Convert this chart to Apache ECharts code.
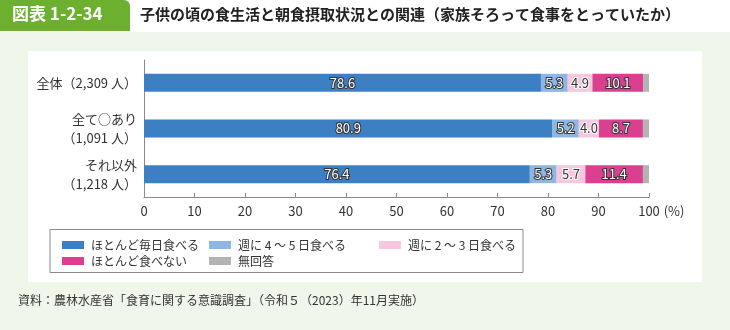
<!DOCTYPE html>
<html>
<head>
<meta charset="utf-8">
<script src="https://cdn.jsdelivr.net/npm/echarts@6/dist/echarts.min.js"></script>
<style>
  html, body { margin: 0; padding: 0; background: #f1f6eb; }
  #chart { width: 730px; height: 330px; }
</style>
</head>
<body>
<div id="chart"></div>
<script>
// Groups (top to bottom)
const categories = ['全体（2,309 人）', '全て○あり\n（1,091 人）', 'それ以外\n（1,218 人）'];

// Share of each answer, %
const seriesNames = ['ほとんど毎日食べる', '週に 4 ～ 5 日食べる', '週に 2 ～ 3 日食べる', 'ほとんど食べない', '無回答'];
const almostDaily = [78.6, 80.9, 76.4];
const fourFiveDays = [5.3, 5.2, 5.3];
const twoThreeDays = [4.9, 4.0, 5.7];
const almostNever = [10.1, 8.7, 11.4];
const noAnswer = [1.1, 1.2, 1.2];

// Axis ticks
const xTicks = [0, 10, 20, 30, 40, 50, 60, 70, 80, 90, 100];

const colors = ['#3c7fc3', '#8db6e2', '#f6c7df', '#da3f90', '#b3b3b3'];
const FONT = '"Noto Sans CJK JP", "Noto Sans", sans-serif';

const chart = echarts.init(document.getElementById('chart'), null, { renderer: 'canvas' });

function labelStyle(dark) {
  return dark
    ? { show: true, position: 'inside', fontSize: 13, fontFamily: FONT, color: '#333', textBorderColor: '#fff', textBorderWidth: 2,
        formatter: p => p.value.toFixed(1) }
    : { show: true, position: 'inside', fontSize: 13, fontFamily: FONT, color: '#fff', textBorderColor: '#333', textBorderWidth: 2,
        formatter: p => p.value.toFixed(1) };
}

const values = [almostDaily, fourFiveDays, twoThreeDays, almostNever, noAnswer];
const series = values.map((arr, i) => ({
  name: seriesNames[i],
  type: 'bar',
  stack: 'total',
  barWidth: 18,
  data: arr,
  itemStyle: { color: colors[i] },
  label: i === 4 ? { show: false } : labelStyle(i === 2),
  emphasis: { disabled: true },
  animation: false
}));

const legendBase = {
  orient: 'vertical',
  itemWidth: 22,
  itemHeight: 8,
  itemGap: 4,
  icon: 'rect',
  textStyle: { fontSize: 12, fontFamily: FONT, color: '#333', padding: [0, 0, 0, 2] },
  selectedMode: false
};

const option = {
  animation: false,
  color: colors,
  textStyle: { fontFamily: FONT },
  grid: { left: 144, right: 81, top: 60, bottom: 133 },
  xAxis: {
    type: 'value',
    min: 0,
    max: 100,
    interval: 10,
    axisLine: { show: true, lineStyle: { color: '#8a8a8a', width: 1 } },
    axisTick: { show: true, inside: true, length: 4, lineStyle: { color: '#8a8a8a' } },
    splitLine: { show: false },
    axisLabel: {
      fontSize: 13, fontFamily: FONT, color: '#333', margin: 8,
      formatter: v => (xTicks.includes(v) ? String(v) : '')
    },
    name: '(%)',
    nameLocation: 'end',
    nameGap: 8,
    nameTextStyle: { fontSize: 13, fontFamily: FONT, color: '#333', align: 'left', verticalAlign: 'top', padding: [8, 0, 0, 0] }
  },
  yAxis: {
    type: 'category',
    data: categories,
    inverse: true,
    axisLine: { show: true, lineStyle: { color: '#8a8a8a', width: 1 } },
    axisTick: { show: false },
    axisLabel: { fontSize: 13, fontFamily: FONT, color: '#333', margin: 7, lineHeight: 19, align: 'right' }
  },
  legend: [
    Object.assign({}, legendBase, { left: 57, top: 234, data: [seriesNames[0], seriesNames[3]] }),
    Object.assign({}, legendBase, { left: 204, top: 234, data: [seriesNames[1], seriesNames[4]] }),
    Object.assign({}, legendBase, { left: 374, top: 234, data: [seriesNames[2]] })
  ],
  graphic: [
    // page header band
    { type: 'rect', z: -10, silent: true, shape: { x: 0, y: 0, width: 730, height: 32 }, style: { fill: '#ffffff' } },
    // white panel behind the plot
    { type: 'rect', z: -10, silent: true, shape: { x: 28, y: 51, width: 674, height: 231 }, style: { fill: '#ffffff' } },
    // figure badge
    { type: 'rect', z: 5, silent: true, shape: { x: 0, y: 0, width: 130, height: 31, r: [0, 6, 0, 0] }, style: { fill: '#6db02f' } },
    { type: 'text', z: 6, silent: true, left: 12, top: 5,
      style: { text: '図表 1-2-34', fill: '#ffffff', font: 'bold 17px ' + FONT } },
    { type: 'text', z: 6, silent: true, left: 140, top: 7,
      style: { text: '子供の頃の食生活と朝食摂取状況との関連（家族そろって食事をとっていたか）', fill: '#222', font: 'bold 15px ' + FONT } },
    // legend frame
    { type: 'rect', z: 1, silent: true, shape: { x: 50, y: 229.5, width: 473, height: 43 },
      style: { fill: 'none', stroke: '#8a8a8a', lineWidth: 1 } },
    // source note
    { type: 'text', z: 6, silent: true, left: 18, top: 294,
      style: { text: '資料：農林水産省「食育に関する意識調査」（令和５（2023）年11月実施）', fill: '#333', font: '12px ' + FONT } }
  ],
  series: series
};

chart.setOption(option);
</script>
</body>
</html>
